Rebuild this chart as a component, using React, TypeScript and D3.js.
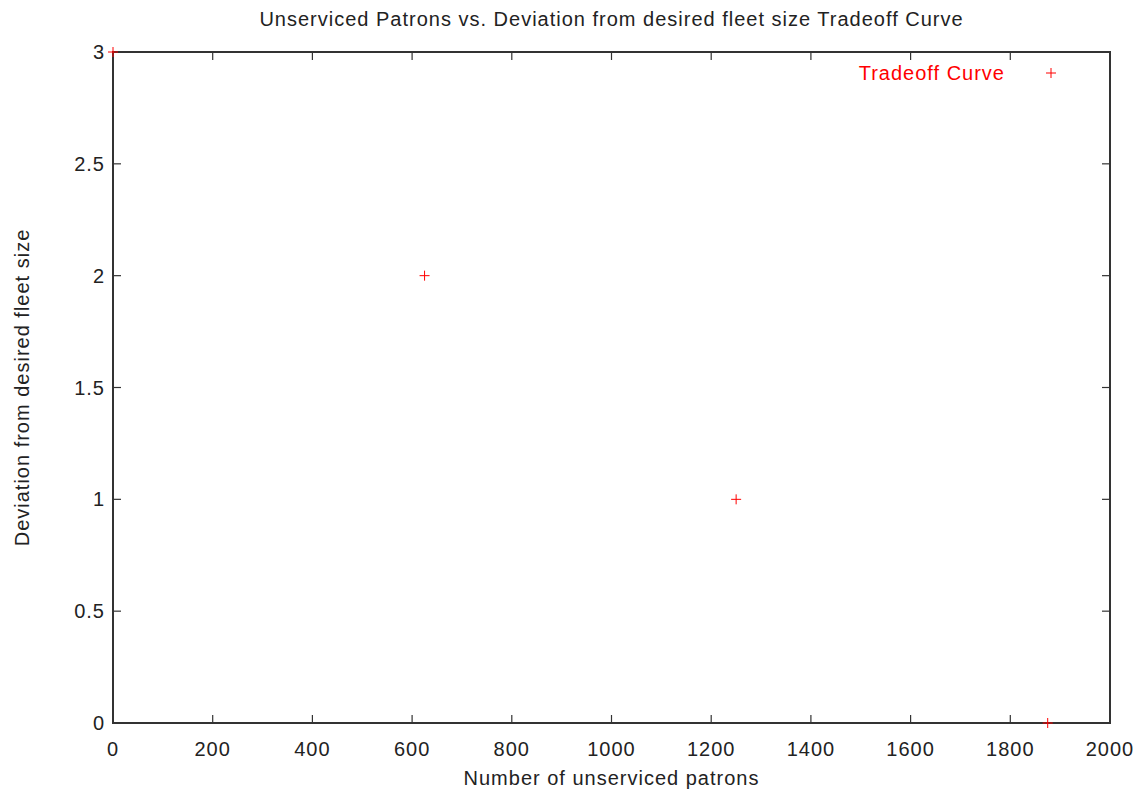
import React, { useRef, useEffect } from 'react';
import * as d3 from 'd3';

// Tradeoff curve points: unserviced patrons vs fleet deviation
const patrons = [0, 625, 1250, 1875];
const deviation = [3, 2, 1, 0];
const xTicks = [0, 200, 400, 600, 800, 1000, 1200, 1400, 1600, 1800, 2000];
const yTicks = [0, 0.5, 1, 1.5, 2, 2.5, 3];
const seriesName = 'Tradeoff Curve';

const W = 1144;
const H = 791;

const App = () => {
  const ref = useRef<SVGSVGElement>(null);

  useEffect(() => {
    const svg = d3.select(ref.current);
    svg.selectAll('*').remove();

    const margin = { top: 52, right: 34, bottom: 68, left: 113 };
    const x = d3.scaleLinear().domain([0, 2000]).range([margin.left, W - margin.right]);
    const y = d3.scaleLinear().domain([0, 3]).range([H - margin.bottom, margin.top]);
    const font = 'Liberation Sans, Arial, sans-serif';
    const tickLen = 8;
    const ink = '#333';

    svg.append('rect').attr('width', W).attr('height', H).attr('fill', '#fff');

    // ticks, mirrored on all four sides, pointing inward
    const g = svg.append('g').attr('stroke', ink).attr('stroke-width', 1.2);
    xTicks.forEach(t => {
      g.append('line').attr('x1', x(t)).attr('x2', x(t))
        .attr('y1', y(0)).attr('y2', y(0) - tickLen);
      g.append('line').attr('x1', x(t)).attr('x2', x(t))
        .attr('y1', y(3)).attr('y2', y(3) + tickLen);
    });
    yTicks.forEach(t => {
      g.append('line').attr('x1', x(0)).attr('x2', x(0) + tickLen)
        .attr('y1', y(t)).attr('y2', y(t));
      g.append('line').attr('x1', x(2000)).attr('x2', x(2000) - tickLen)
        .attr('y1', y(t)).attr('y2', y(t));
    });

    // frame
    svg.append('rect')
      .attr('x', x(0)).attr('y', y(3))
      .attr('width', x(2000) - x(0)).attr('height', y(0) - y(3))
      .attr('fill', 'none').attr('stroke', ink).attr('stroke-width', 2);

    // tick labels
    const labels = svg.append('g').attr('font-family', font).attr('font-size', 20)
      .attr('letter-spacing', 1).attr('fill', '#222');
    xTicks.forEach(t => {
      labels.append('text').attr('x', x(t)).attr('y', y(0) + 33)
        .attr('text-anchor', 'middle').text(String(t));
    });
    yTicks.forEach(t => {
      labels.append('text').attr('x', x(0) - 8).attr('y', y(t) + 7)
        .attr('text-anchor', 'end').text(String(t));
    });

    // titles
    const cx = (x(0) + x(2000)) / 2;
    labels.append('text').attr('x', cx).attr('y', 26)
      .attr('text-anchor', 'middle').text('Unserviced Patrons vs. Deviation from desired fleet size Tradeoff Curve');
    labels.append('text').attr('x', cx).attr('y', 785)
      .attr('text-anchor', 'middle').text('Number of unserviced patrons');
    labels.append('text')
      .attr('transform', `translate(29,${(y(0) + y(3)) / 2}) rotate(-90)`)
      .attr('text-anchor', 'middle').text('Deviation from desired fleet size');

    // points as gnuplot "+" markers
    const red = '#f00';
    const plus = (px: number, py: number) => {
      svg.append('path')
        .attr('d', `M${px - 5},${py}H${px + 5}M${px},${py - 5}V${py + 5}`)
        .attr('stroke', red).attr('stroke-width', 1).attr('fill', 'none');
    };
    patrons.forEach((p, i) => plus(x(p), y(deviation[i])));

    // legend
    const ly = 73;
    svg.append('text').attr('x', 1005).attr('y', ly + 7)
      .attr('text-anchor', 'end').attr('font-family', font).attr('font-size', 20)
      .attr('letter-spacing', 1).attr('fill', red).text(seriesName);
    plus(1051, ly);
  }, []);

  return <svg ref={ref} width={W} height={H} style={{ position: 'absolute', left: 0, top: 0 }} />;
};

export default App;
